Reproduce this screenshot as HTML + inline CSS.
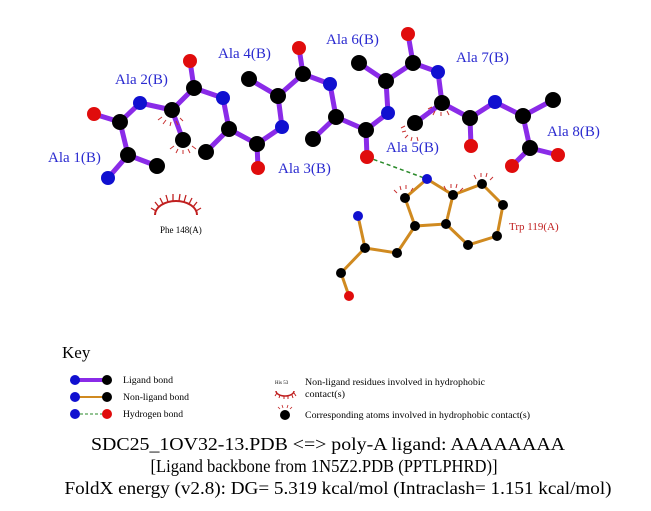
<!DOCTYPE html>
<html><head><meta charset="utf-8"><style>
html,body{margin:0;padding:0;background:#fff;}
svg{display:block;}
.lb{font-family:"Liberation Serif",serif;font-size:15px;fill:#2a2ad0;}
.s{font-family:"Liberation Serif",serif;}
</style></head><body>
<svg width="651" height="511" viewBox="0 0 651 511" xmlns="http://www.w3.org/2000/svg">
<rect width="651" height="511" fill="#fff"/>
<g stroke="#8a2be8" stroke-width="5" stroke-linecap="round">
<line x1="108" y1="178" x2="128" y2="155"/><line x1="128" y1="155" x2="157" y2="166"/>
<line x1="128" y1="155" x2="120" y2="122"/><line x1="120" y1="122" x2="94" y2="114"/>
<line x1="120" y1="122" x2="140" y2="103"/><line x1="140" y1="103" x2="172" y2="110"/>
<line x1="172" y1="110" x2="183" y2="140"/><line x1="172" y1="110" x2="194" y2="88"/>
<line x1="194" y1="88" x2="190" y2="61"/><line x1="194" y1="88" x2="223" y2="98"/>
<line x1="223" y1="98" x2="229" y2="129"/><line x1="229" y1="129" x2="206" y2="152"/>
<line x1="229" y1="129" x2="257" y2="144"/><line x1="257" y1="144" x2="258" y2="168"/>
<line x1="257" y1="144" x2="282" y2="127"/><line x1="282" y1="127" x2="278" y2="96"/>
<line x1="278" y1="96" x2="249" y2="79"/><line x1="278" y1="96" x2="303" y2="74"/>
<line x1="303" y1="74" x2="299" y2="48"/><line x1="303" y1="74" x2="330" y2="84"/>
<line x1="330" y1="84" x2="336" y2="117"/><line x1="336" y1="117" x2="313" y2="139"/>
<line x1="336" y1="117" x2="366" y2="130"/><line x1="366" y1="130" x2="367" y2="157"/>
<line x1="366" y1="130" x2="388" y2="113"/><line x1="388" y1="113" x2="386" y2="81"/>
<line x1="386" y1="81" x2="359" y2="63"/><line x1="386" y1="81" x2="413" y2="63"/>
<line x1="413" y1="63" x2="408" y2="34"/><line x1="413" y1="63" x2="438" y2="72"/>
<line x1="438" y1="72" x2="442" y2="103"/><line x1="442" y1="103" x2="415" y2="123"/>
<line x1="442" y1="103" x2="470" y2="118"/><line x1="470" y1="118" x2="471" y2="146"/>
<line x1="470" y1="118" x2="495" y2="102"/><line x1="495" y1="102" x2="523" y2="116"/>
<line x1="523" y1="116" x2="553" y2="100"/><line x1="523" y1="116" x2="530" y2="148"/>
<line x1="530" y1="148" x2="558" y2="155"/><line x1="530" y1="148" x2="512" y2="166"/>
</g>
<g stroke="#d08a20" stroke-width="3" stroke-linecap="round" fill="none">
<polyline points="427,179 405,198 415,226 446,224 453,195 427,179"/>
<polyline points="453,195 482,184 503,205 497,236 468,245 446,224"/>
<polyline points="415,226 397,253 365,248 358,216"/>
<polyline points="365,248 341,273 349,296"/>
</g>
<line x1="367" y1="157" x2="427" y2="179" stroke="#2a8a2a" stroke-width="1.5" stroke-dasharray="4,3"/>
<g stroke="#c83030" stroke-width="1">
<path d="M162,117 l-4,3 M166,120 l-3,4 M171,122 l-1,4 M176,121 l2,4 M180,118 l3,3"/>
<path d="M174,146 l-4,3 M178,149 l-2,4 M183,150 l0,4 M188,149 l2,4 M192,146 l4,3"/>
<path d="M405,126 l-4,2 M406,131 l-4,1 M408,135 l-3,3 M412,137 l-1,4 M417,137 l1,4"/>
<path d="M432,107 l-4,2 M435,111 l-2,4 M441,112 l0,4 M447,111 l2,4"/>
<path d="M397,193 l-3,-3 M401,190 l-1,-4 M406,189 l0,-4 M411,191 l2,-3"/>
<path d="M446,190 l-2,-4 M451,188 l0,-4 M456,188 l1,-4 M460,191 l3,-3"/>
<path d="M476,179 l-2,-4 M481,177 l0,-4 M486,177 l1,-4 M490,180 l3,-3"/>
</g>
<path d="M155,215 A21,14 0 0 1 197,215" fill="none" stroke="#c02020" stroke-width="2"/>
<g stroke="#c02020" stroke-width="1.3">
<path d="M156,211 l-5,-3 M159,207 l-4,-5 M163,204 l-3,-6 M168,202 l-2,-7 M173,201 l0,-7 M179,201 l1,-7 M184,202 l2,-7 M189,204 l3,-6 M193,207 l4,-5 M196,211 l5,-3"/>
</g>
<text x="160" y="233" class="s" font-size="9" fill="#000">Phe 148(A)</text>
<g>
<g fill="#1010d0"><circle cx="108" cy="178" r="7"/><circle cx="140" cy="103" r="7"/><circle cx="223" cy="98" r="7"/><circle cx="282" cy="127" r="7"/><circle cx="330" cy="84" r="7"/><circle cx="388" cy="113" r="7"/><circle cx="438" cy="72" r="7"/><circle cx="495" cy="102" r="7"/></g>
<g fill="#e00c0c"><circle cx="94" cy="114" r="7"/><circle cx="190" cy="61" r="7"/><circle cx="258" cy="168" r="7"/><circle cx="299" cy="48" r="7"/><circle cx="367" cy="157" r="7"/><circle cx="408" cy="34" r="7"/><circle cx="471" cy="146" r="7"/><circle cx="558" cy="155" r="7"/><circle cx="512" cy="166" r="7"/></g>
<g fill="#000"><circle cx="128" cy="155" r="8"/><circle cx="157" cy="166" r="8"/><circle cx="120" cy="122" r="8"/><circle cx="172" cy="110" r="8"/><circle cx="183" cy="140" r="8"/><circle cx="194" cy="88" r="8"/><circle cx="229" cy="129" r="8"/><circle cx="206" cy="152" r="8"/><circle cx="257" cy="144" r="8"/><circle cx="278" cy="96" r="8"/><circle cx="249" cy="79" r="8"/><circle cx="303" cy="74" r="8"/><circle cx="336" cy="117" r="8"/><circle cx="313" cy="139" r="8"/><circle cx="366" cy="130" r="8"/><circle cx="386" cy="81" r="8"/><circle cx="359" cy="63" r="8"/><circle cx="413" cy="63" r="8"/><circle cx="442" cy="103" r="8"/><circle cx="415" cy="123" r="8"/><circle cx="470" cy="118" r="8"/><circle cx="523" cy="116" r="8"/><circle cx="553" cy="100" r="8"/><circle cx="530" cy="148" r="8"/></g>
<g fill="#000"><circle cx="405" cy="198" r="5"/><circle cx="415" cy="226" r="5"/><circle cx="446" cy="224" r="5"/><circle cx="453" cy="195" r="5"/><circle cx="482" cy="184" r="5"/><circle cx="503" cy="205" r="5"/><circle cx="497" cy="236" r="5"/><circle cx="468" cy="245" r="5"/><circle cx="397" cy="253" r="5"/><circle cx="365" cy="248" r="5"/><circle cx="341" cy="273" r="5"/></g>
<circle cx="427" cy="179" r="5" fill="#1010d0"/><circle cx="358" cy="216" r="5" fill="#1010d0"/><circle cx="349" cy="296" r="5" fill="#e00c0c"/>
</g>
<text class="lb" x="48" y="162">Ala 1(B)</text>
<text class="lb" x="115" y="84">Ala 2(B)</text>
<text class="lb" x="278" y="173">Ala 3(B)</text>
<text class="lb" x="218" y="58">Ala 4(B)</text>
<text class="lb" x="386" y="152">Ala 5(B)</text>
<text class="lb" x="326" y="44">Ala 6(B)</text>
<text class="lb" x="456" y="62">Ala 7(B)</text>
<text class="lb" x="547" y="136">Ala 8(B)</text>
<text x="509" y="230" class="s" font-size="11" fill="#c02020">Trp 119(A)</text>
<text x="62" y="358" class="s" font-size="17" fill="#000">Key</text>
<line x1="75" y1="380" x2="107" y2="380" stroke="#8a2be8" stroke-width="4"/>
<circle cx="75" cy="380" r="5" fill="#1010d0"/><circle cx="107" cy="380" r="5" fill="#000"/>
<line x1="75" y1="397" x2="107" y2="397" stroke="#d08a20" stroke-width="2"/>
<circle cx="75" cy="397" r="5" fill="#1010d0"/><circle cx="107" cy="397" r="5" fill="#000"/>
<line x1="75" y1="414" x2="107" y2="414" stroke="#2a8a2a" stroke-width="1" stroke-dasharray="3,2"/>
<circle cx="75" cy="414" r="5" fill="#1010d0"/><circle cx="107" cy="414" r="5" fill="#e00c0c"/>
<g class="s" font-size="9" fill="#000">
<text x="123" y="383" textLength="50" lengthAdjust="spacingAndGlyphs">Ligand bond</text>
<text x="123" y="400" textLength="66" lengthAdjust="spacingAndGlyphs">Non-ligand bond</text>
<text x="123" y="417" textLength="60" lengthAdjust="spacingAndGlyphs">Hydrogen bond</text>
<text x="305" y="385" textLength="180" lengthAdjust="spacingAndGlyphs">Non-ligand residues involved in hydrophobic</text>
<text x="305" y="397" textLength="40" lengthAdjust="spacingAndGlyphs">contact(s)</text>
<text x="305" y="418" textLength="225" lengthAdjust="spacingAndGlyphs">Corresponding atoms involved in hydrophobic contact(s)</text>
<text x="275" y="384" font-size="5">His 53</text>
</g>
<path d="M276,391 A9,5 0 0 0 294,391" fill="none" stroke="#c02020" stroke-width="1.5"/>
<g stroke="#c02020" stroke-width="1"><path d="M277,393 l-2,3 M280,395 l-1,3 M284,396 l0,3 M288,396 l0,3 M292,395 l1,3 M294,393 l2,3"/></g>
<circle cx="285" cy="415" r="5" fill="#000"/>
<g stroke="#c02020" stroke-width="0.8"><path d="M280,409 l-2,-2 M283,408 l-1,-3 M287,408 l1,-3 M290,409 l2,-2"/></g>
<g class="s" font-size="18" fill="#000" text-anchor="middle">
<text x="328" y="450" textLength="474" lengthAdjust="spacingAndGlyphs">SDC25_1OV32-13.PDB &lt;=&gt; poly-A ligand: AAAAAAAA</text>
<text x="324" y="472" textLength="347" lengthAdjust="spacingAndGlyphs">[Ligand backbone from 1N5Z2.PDB (PPTLPHRD)]</text>
<text x="338" y="494" textLength="547" lengthAdjust="spacingAndGlyphs">FoldX energy (v2.8): DG= 5.319 kcal/mol (Intraclash= 1.151 kcal/mol)</text>
</g>
</svg>
</body></html>
